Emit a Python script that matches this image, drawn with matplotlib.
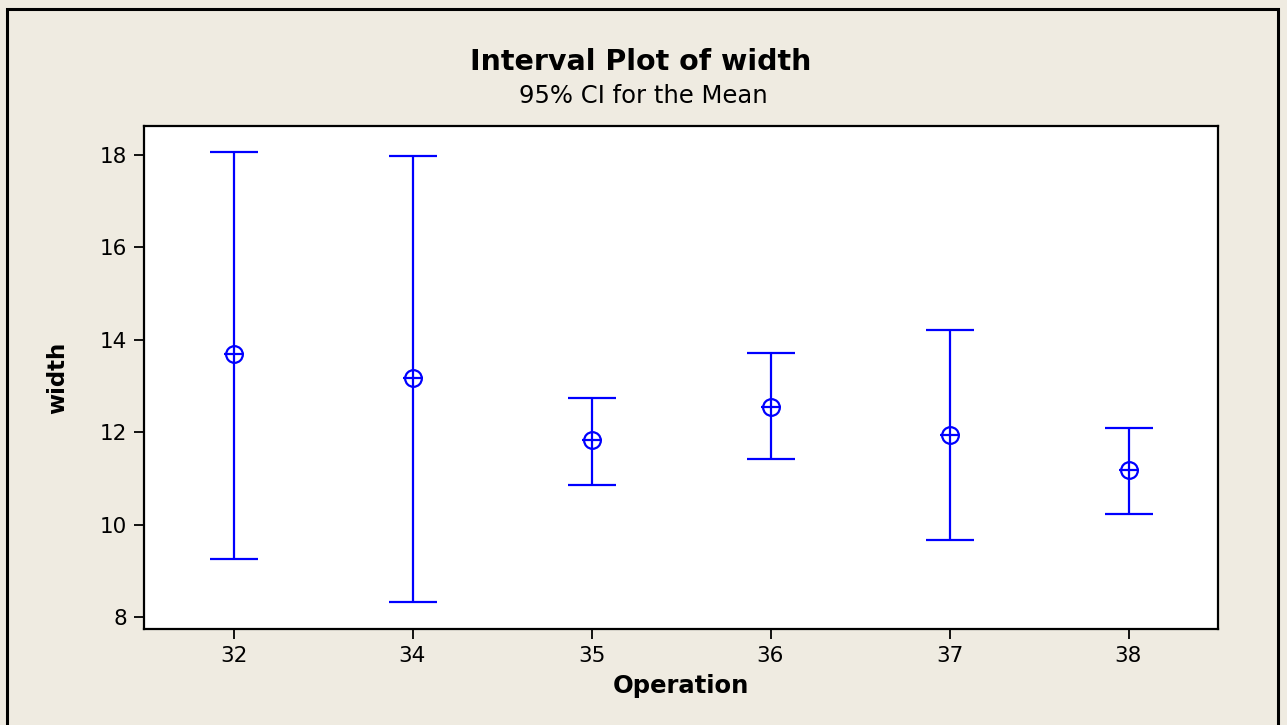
import matplotlib
matplotlib.use("Agg")
import matplotlib.pyplot as plt
from matplotlib.patches import Rectangle
import numpy as np

categories = ["32", "34", "35", "36", "37", "38"]
means = [13.69, 13.17, 11.83, 12.55, 11.94, 11.18]
upper = [18.07, 17.99, 12.75, 13.72, 14.22, 12.10]
lower = [9.26, 8.32, 10.85, 11.42, 9.67, 10.24]
yticks = [8, 10, 12, 14, 16, 18]

plt.rcParams['font.family'] = ['DejaVu Sans']
bg = '#EFEBE1'
fig = plt.figure(figsize=(12.87, 7.25), dpi=100, facecolor=bg)
ax = fig.add_axes([144/1287, 1-629/725, (1218-144)/1287, (629-126)/725])
ax.set_facecolor('white')

x = np.arange(len(categories))
m = np.array(means)
yerr = [m - np.array(lower), np.array(upper) - m]
ax.errorbar(x, m, yerr=yerr, fmt='none', ecolor='#0000FF', elinewidth=1.6,
            capsize=17, capthick=1.6)
ax.plot(x, m, linestyle='none', marker='o', markersize=12, markerfacecolor='none',
        markeredgecolor='#0000FF', markeredgewidth=1.6)
ax.plot(x, m, linestyle='none', marker='_', markersize=15,
        markeredgecolor='#0000FF', markeredgewidth=1.6)

ax.set_xlim(-0.5, 5.5)
ax.set_ylim(7.74, 18.63)
ax.set_xticks(x)
ax.set_xticklabels(categories)
ax.set_yticks(yticks)
ax.tick_params(axis='both', direction='out', length=7, width=1.3, labelsize=15.5,
               colors='black', pad=5)
for s in ax.spines.values():
    s.set_linewidth(1.6)
    s.set_color('black')

ax.set_xlabel('Operation', fontsize=17.5, fontweight='bold', labelpad=6)
ax.set_ylabel('width', fontsize=16.5, fontweight='bold', labelpad=22)

fig.text(641/1287, 1-62/725, 'Interval Plot of width', ha='center', va='center',
         fontsize=20.5, fontweight='bold')
fig.text(643/1287, 1-96/725, '95% CI for the Mean', ha='center', va='center', fontsize=17.5)

fig.patches.append(Rectangle((7/1287, -0.01), (1278-7)/1287, 1 - 9/725 + 0.01,
                             transform=fig.transFigure, fill=False,
                             edgecolor='black', linewidth=2.2))
fig.savefig('out.png', dpi=100, facecolor=bg)
